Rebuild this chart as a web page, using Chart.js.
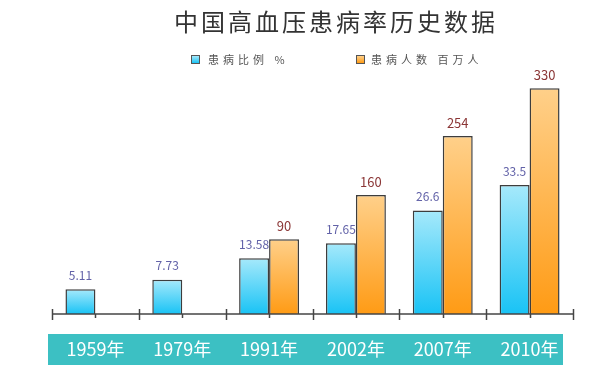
<!DOCTYPE html>
<html><head><meta charset="utf-8">
<script src="https://cdn.jsdelivr.net/npm/chart.js@4/dist/chart.umd.min.js"></script>
<style>
html,body{margin:0;padding:0;background:#fff;}
#wrap{position:relative;width:600px;height:372px;overflow:hidden;}
#title{position:absolute;left:0;width:672px;top:9px;text-align:center;font:24px/24px "Noto Sans CJK SC",sans-serif;letter-spacing:3px;color:#333;}
.lg{position:absolute;top:52px;font:11px/14px "Noto Sans CJK SC",sans-serif;letter-spacing:4px;color:#555;white-space:nowrap;}
.box{position:absolute;width:7px;height:7px;border:1px solid #555;top:3px;}
canvas{position:absolute;left:0;top:0;}
</style></head>
<body><div id="wrap">
<canvas id="c" width="600" height="372"></canvas>
<div id="title">中国高血压患病率历史数据</div>
<div class="lg" style="left:191px"><span class="box" style="left:0;background:linear-gradient(#a6e9fb,#19c3f5)"></span><span style="margin-left:17px" id="lg0"></span></div>
<div class="lg" style="left:356px"><span class="box" style="left:0;background:linear-gradient(#ffd08a,#ff9b15)"></span><span style="margin-left:15px" id="lg1"></span></div>
</div>
<script>
const categories = ['1959年','1979年','1991年','2002年','2007年','2010年'];
const ratioLabel = '患病比例 %';
const countLabel = '患病人数 百万人';
const ratioValues = [5.11, 7.73, 13.58, 17.65, 26.6, 33.5];
const countValues = [null, null, 90, 160, 254, 330];

document.getElementById('lg0').textContent = ratioLabel;
document.getElementById('lg1').textContent = countLabel;

// display ranges of the two (hidden) value axes
const ratioMin = -1.6, ratioMax = 62.1;
const countMin = -29, countMax = 343;

function grad(top, bottom, axisId){
  return c => {
    const chart = c.chart;
    if (!chart.chartArea || c.type !== 'data' || c.raw == null) return bottom;
    const ys = chart.scales[axisId];
    const y0 = ys.getPixelForValue(c.raw), y1 = ys.bottom;
    const g = chart.ctx.createLinearGradient(0, y0, 0, y1);
    g.addColorStop(0, top); g.addColorStop(1, bottom);
    return g;
  };
}

const decor = {
  id: 'decor',
  beforeDraw(chart){
    const {ctx, chartArea: a} = chart;
    const xs = chart.scales.x;
    ctx.save();
    ctx.fillStyle = '#3cc0c3';
    ctx.fillRect(a.left - 4, xs.top + 20, a.right - a.left - 6, 31);
    ctx.restore();
  },
  afterDatasetsDraw(chart){
    const {ctx} = chart;
    const xs = chart.scales.x;
    const base = xs.top;
    ctx.save();
    ctx.strokeStyle = '#444'; ctx.lineWidth = 1.5;
    ctx.beginPath(); ctx.moveTo(xs.getPixelForValue(-0.5), base); ctx.lineTo(xs.getPixelForValue(categories.length - 0.5), base); ctx.stroke();
    for (let i = 0; i <= categories.length; i++) {
      const x = Math.round(xs.getPixelForValue(i - 0.5)) + 0.5;
      ctx.beginPath(); ctx.moveTo(x, base - 5); ctx.lineTo(x, base + 6); ctx.stroke();
    }
    for (let i = 0; i < categories.length; i++) {
      const x = Math.round(xs.getPixelForValue(i)) + 0.5;
      ctx.beginPath(); ctx.moveTo(x, base); ctx.lineTo(x, base + 4); ctx.stroke();
    }
    const styles = [
      {color: '#6262a8', font: '12px "Noto Sans CJK SC", sans-serif', off: 14},
      {color: '#8b3636', font: '13px "Noto Sans CJK SC", sans-serif', off: 13}
    ];
    chart.data.datasets.forEach((ds, di) => {
      const meta = chart.getDatasetMeta(di);
      const st = styles[di];
      ctx.fillStyle = st.color; ctx.font = st.font;
      ctx.textAlign = 'center'; ctx.textBaseline = 'middle';
      meta.data.forEach((el, i) => {
        const v = ds.data[i];
        if (v == null) return;
        ctx.fillText(String(v), el.x, el.y - st.off);
      });
    });
    ctx.restore();
  }
};

new Chart(document.getElementById('c'), {
  type: 'bar',
  data: {
    labels: categories,
    datasets: [
      {label: ratioLabel, data: ratioValues, yAxisID: 'y', base: ratioMin,
       backgroundColor: grad('#a6e9fb', '#19c3f5', 'y'), borderColor: '#3d3d3d', borderWidth: 1.5, borderSkipped: 'bottom'},
      {label: countLabel, data: countValues, yAxisID: 'y2', base: countMin,
       backgroundColor: grad('#ffd08a', '#ff9b15', 'y2'), borderColor: '#3d3d3d', borderWidth: 1.5, borderSkipped: 'bottom'}
    ]
  },
  options: {
    responsive: false,
    animation: false,
    layout: {padding: {top: 80, left: 52, right: 27, bottom: 0}},
    datasets: {bar: {categoryPercentage: 0.69, barPercentage: 1.0}},
    plugins: {legend: {display: false}, title: {display: false}, tooltip: {enabled: false}},
    scales: {
      x: {
        grid: {display: false, drawTicks: false},
        border: {display: false},
        ticks: {color: '#ffffff', padding: 24, font: {family: '"Noto Sans CJK SC", sans-serif', size: 18}},
        afterFit: s => { s.height = 58; }
      },
      y: {display: false, min: ratioMin, max: ratioMax},
      y2: {display: false, min: countMin, max: countMax}
    }
  },
  plugins: [decor]
});
</script>
</body></html>
